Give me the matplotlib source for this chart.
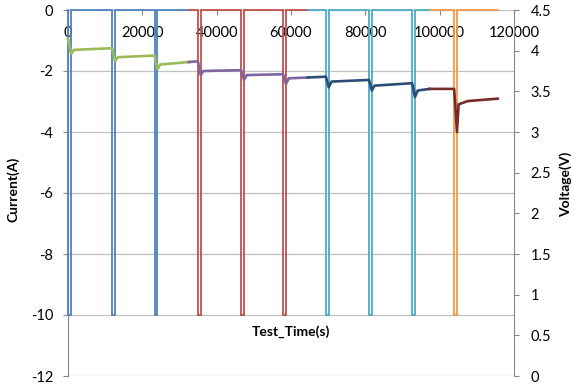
import matplotlib
matplotlib.use("Agg")
import matplotlib.pyplot as plt

plt.rcParams['font.family'] = ['Lato', 'DejaVu Sans']

# ---- data ----
# Current segments (time s, current A)
cur1_t = [0, 80, 80, 830, 830, 11900, 11900, 12650, 12650, 23300, 23300, 24050, 24050, 32500]
cur1_a = [0, 0, -10, -10, 0, 0, -10, -10, 0, 0, -10, -10, 0, 0]
cur2_t = [32500, 34950, 34950, 35700, 35700, 46600, 46600, 47350, 47350, 57900, 57900, 58650, 58650, 64500]
cur2_a = [0, 0, -10, -10, 0, 0, -10, -10, 0, 0, -10, -10, 0, 0]
cur3_t = [64500, 69400, 69400, 70150, 70150, 81000, 81000, 81750, 81750, 92600, 92600, 93350, 93350, 97300]
cur3_a = [0, 0, -10, -10, 0, 0, -10, -10, 0, 0, -10, -10, 0, 0]
cur4_t = [97300, 103900, 103900, 104650, 104650, 115600]
cur4_a = [0, 0, -10, -10, 0, 0]

# Voltage segments (time s, voltage V)
volt1_t = [0, 80, 830, 1600, 11900, 12650, 13400, 23300, 24050, 24800, 32500]
volt1_v = [4.15, 4.13, 3.96, 4.01, 4.03, 3.87, 3.92, 3.94, 3.77, 3.83, 3.86]
volt2_t = [32500, 34950, 35700, 36400, 46600, 47350, 48100, 57900, 58650, 59400, 64500]
volt2_v = [3.86, 3.87, 3.70, 3.75, 3.76, 3.64, 3.70, 3.71, 3.59, 3.66, 3.67]
volt3_t = [64500, 69400, 70150, 70900, 81000, 81750, 82500, 92600, 93350, 94100, 97300]
volt3_v = [3.67, 3.68, 3.55, 3.62, 3.64, 3.51, 3.57, 3.60, 3.43, 3.51, 3.53]
volt4_t = [97300, 103900, 104650, 105100, 107500, 115600]
volt4_v = [3.53, 3.53, 3.00, 3.34, 3.38, 3.41]

xticks = [0, 20000, 40000, 60000, 80000, 100000, 120000]
yticks_left = [0, -2, -4, -6, -8, -10, -12]
yticks_right = [0, 0.5, 1, 1.5, 2, 2.5, 3, 3.5, 4, 4.5]

# ---- figure ----
fig = plt.figure(figsize=(5.72, 3.87), dpi=100)
ax = fig.add_axes([68/572, 1-376/387, 446/572, 366/387])
ax2 = ax.twinx()

spine_c = '#868686'
grid_c = '#C0C0C0'

for t, a, c in [(cur1_t, cur1_a, '#4F81BD'), (cur2_t, cur2_a, '#C0504D'),
                (cur3_t, cur3_a, '#4BACC6'), (cur4_t, cur4_a, '#F79646')]:
    ax.plot(t, a, color=c, lw=1.3, solid_joinstyle='miter', clip_on=False, zorder=3)

for t, v, c in [(volt1_t, volt1_v, '#9BBB59'), (volt2_t, volt2_v, '#8064A2'),
                (volt3_t, volt3_v, '#2C4D75'), (volt4_t, volt4_v, '#772C2A')]:
    ax2.plot(t, v, color=c, lw=1.9, clip_on=False, zorder=3)

ax.set_xlim(0, 120000)
ax.set_ylim(-12, 0)
ax2.set_ylim(0, 4.5)
ax.set_xticks(xticks)
ax.set_xticklabels([str(x) for x in xticks])
ax.set_yticks(yticks_left)
ax.set_yticklabels([str(y) for y in yticks_left])
ax2.set_yticks(yticks_right)
ax2.set_yticklabels([('%g' % y) for y in yticks_right])

ax.yaxis.grid(True, color=grid_c, lw=0.9)
ax.set_axisbelow(True)

for s in ['top', 'right']:
    ax.spines[s].set_visible(False)
ax.spines['bottom'].set_position(('data', 0))
ax.spines['bottom'].set_visible(False)
ax.spines['left'].set_color(spine_c)
for s in ['top', 'left', 'bottom']:
    ax2.spines[s].set_visible(False)
ax2.spines['right'].set_color(spine_c)

ax.tick_params(axis='x', direction='out', length=3.5, color=spine_c, labelsize=10.5, pad=8)
ax.tick_params(axis='y', direction='out', length=3.5, color=spine_c, labelsize=10.5, pad=7)
ax2.tick_params(axis='y', direction='out', length=3.5, color=spine_c, labelsize=10.5, pad=8.5)

ax.set_ylabel('Current(A)', fontsize=10, fontweight='bold')
ax.yaxis.set_label_coords(-0.109, 0.51)
ax2.set_ylabel('Voltage(V)', fontsize=10, fontweight='bold')
ax2.yaxis.set_label_coords(1.102, 0.523)
ax.text(0.5, 0.12, 'Test_Time(s)', transform=ax.transAxes, ha='center', va='center',
        fontsize=10, fontweight='bold')

fig.savefig('out.png', dpi=100)
